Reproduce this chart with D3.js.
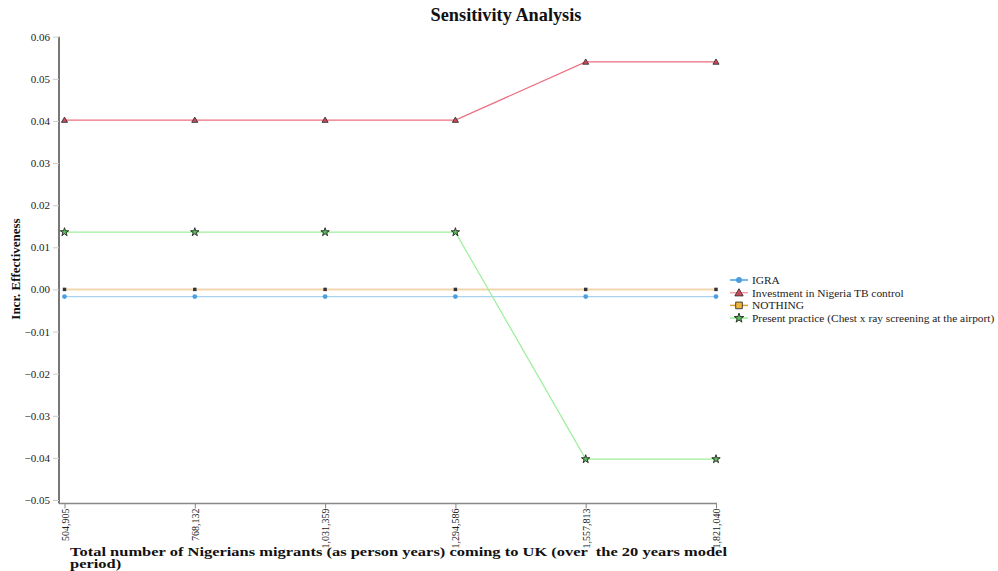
<!DOCTYPE html>
<html>
<head>
<meta charset="utf-8">
<script src="https://cdn.jsdelivr.net/npm/d3@7"></script>
<style>
  html, body { margin: 0; padding: 0; background: #fff; }
  svg { display: block; font-family: "Liberation Serif", "Times New Roman", serif; }
</style>
</head>
<body>
<svg id="chart" width="998" height="571"></svg>
<script>
// Migrant volumes (person years over the 20 year model period)
const migrants = [504905, 768132, 1031359, 1294586, 1557813, 1821040];

// Incremental effectiveness per strategy
const igra = [-0.0017, -0.0017, -0.0017, -0.0017, -0.0017, -0.0017];
const investment = [0.0402, 0.0402, 0.0402, 0.0402, 0.0540, 0.0540];
const nothing = [0, 0, 0, 0, 0, 0];
const presentPractice = [0.0136, 0.0136, 0.0136, 0.0136, -0.0403, -0.0403];

const seriesNames = [
  "IGRA",
  "Investment in Nigeria TB control",
  "NOTHING",
  "Present practice (Chest x ray screening at the airport)"
];
const yTicks = [0.06, 0.05, 0.04, 0.03, 0.02, 0.01, 0, -0.01, -0.02, -0.03, -0.04, -0.05];

const series = [
  { name: seriesNames[0], values: igra, line: "#a9d3f3", lineW: 1.2, mark: "circle", fill: "#4c9fdf", stroke: "#4c9fdf", legendLine: "#4c9fdf" },
  { name: seriesNames[1], values: investment, line: "#ee6f80", lineW: 1.2, mark: "triangle", fill: "#d04858", stroke: "#333", legendLine: "#f4a0aa" },
  { name: seriesNames[2], values: nothing, line: "#f3d6ae", lineW: 2, mark: "square", fill: "#333", stroke: "#333", legendLine: "#e0a030", legendFill: "#f0b43a" },
  { name: seriesNames[3], values: presentPractice, line: "#9def9a", lineW: 1.2, mark: "star", fill: "#5cbf5a", stroke: "#222", legendLine: "#9def9a" }
];

const svg = d3.select("#chart");

const x = d3.scalePoint().domain(migrants).range([64.5, 716]);
const y = d3.scaleLinear().domain([-0.05, 0.06]).range([500, 36.7]);

const fmt = d3.format(",");

// Title
svg.append("text")
  .attr("x", 506).attr("y", 21)
  .attr("text-anchor", "middle")
  .attr("font-size", 18.3).attr("font-weight", "bold")
  .attr("fill", "#111")
  .text("Sensitivity Analysis");

// Y axis
const yAxis = svg.append("g").attr("transform", "translate(59,0)")
  .call(d3.axisLeft(y).tickValues(yTicks).tickFormat(d3.format(".2f")).tickSize(6).tickPadding(3));
yAxis.select(".domain").attr("stroke", "#555").attr("stroke-width", 1.6)
  .attr("d", "M0,36.7V503.5");
yAxis.selectAll(".tick line").attr("stroke", "#ccc");
yAxis.selectAll(".tick text").attr("font-size", 11).attr("fill", "#222")
  .attr("font-family", "Liberation Serif, serif");

// X axis
const xAxis = svg.append("g").attr("transform", "translate(0,503.5)")
  .call(d3.axisBottom(x).tickFormat(fmt).tickSize(5).tickSizeOuter(0));
xAxis.select(".domain").attr("stroke", "#888").attr("stroke-width", 1.4)
  .attr("d", "M59,0H717");
xAxis.selectAll(".tick line").attr("stroke", "#888");
xAxis.selectAll(".tick text")
  .attr("font-size", 10).attr("fill", "#222")
  .attr("font-family", "Liberation Serif, serif")
  .attr("text-anchor", "end")
  .attr("dy", "0.35em")
  .attr("transform", "translate(0,5) rotate(-90)")
  .attr("x", 0).attr("y", 0);

// Y axis label
svg.append("text")
  .attr("transform", "translate(20,269) rotate(-90)")
  .attr("text-anchor", "middle")
  .attr("font-size", 13).attr("font-weight", "bold")
  .attr("fill", "#111")
  .text("Incr. Effectiveness");

// X axis label (two lines, horizontally widened type)
const xl = svg.append("text")
  .attr("transform", "translate(70,0) scale(1.266,1)")
  .attr("font-size", 13).attr("font-weight", "bold")
  .attr("fill", "#111")
  .style("white-space", "pre");
xl.append("tspan").attr("x", 0).attr("y", 556)
  .text("Total number of Nigerians migrants (as person years) coming to UK (over  the 20 years model");
xl.append("tspan").attr("x", 0).attr("y", 568.5).text("period)");

// Marker shapes
const symbolFor = (kind, size) => {
  const t = { circle: d3.symbolCircle, triangle: d3.symbolTriangle, square: d3.symbolSquare, star: d3.symbolStar }[kind];
  return d3.symbol().type(t).size(size)();
};
const markSize = { circle: 18, triangle: 16, square: 12, star: 22 };

const line = d3.line().x((d, i) => x(migrants[i])).y(d => y(d));

// Lines
series.forEach(s => {
  svg.append("path")
    .datum(s.values)
    .attr("fill", "none")
    .attr("stroke", s.line)
    .attr("stroke-width", s.lineW)
    .attr("d", line);
});

// Markers
series.forEach(s => {
  svg.append("g").selectAll("path")
    .data(s.values)
    .join("path")
    .attr("transform", (d, i) => `translate(${x(migrants[i])},${y(d) + (s.mark === "triangle" ? 0.5 : 0)})`)
    .attr("d", symbolFor(s.mark, markSize[s.mark]))
    .attr("fill", s.fill)
    .attr("stroke", s.mark === "circle" || s.mark === "square" ? "none" : s.stroke)
    .attr("stroke-width", 0.9);
});

// Legend
const legend = svg.append("g").attr("transform", "translate(730,280)");
series.forEach((s, i) => {
  const g = legend.append("g").attr("transform", `translate(0,${i * 12.7})`);
  g.append("line").attr("x1", 0).attr("x2", 18).attr("y1", 0).attr("y2", 0)
    .attr("stroke", s.legendLine).attr("stroke-width", 1.5);
  const size = { circle: 28, triangle: 30, square: 44, star: 28 }[s.mark];
  g.append("path")
    .attr("transform", `translate(9,${s.mark === "triangle" ? 0.8 : 0})`)
    .attr("d", symbolFor(s.mark, size))
    .attr("fill", s.legendFill || s.fill)
    .attr("stroke", s.mark === "circle" ? "none" : s.stroke)
    .attr("stroke-width", 0.9);
  g.append("text")
    .attr("x", 22).attr("y", 0).attr("dy", "0.35em")
    .attr("font-size", 11.4).attr("fill", "#222")
    .text(s.name);
});
</script>
</body>
</html>
